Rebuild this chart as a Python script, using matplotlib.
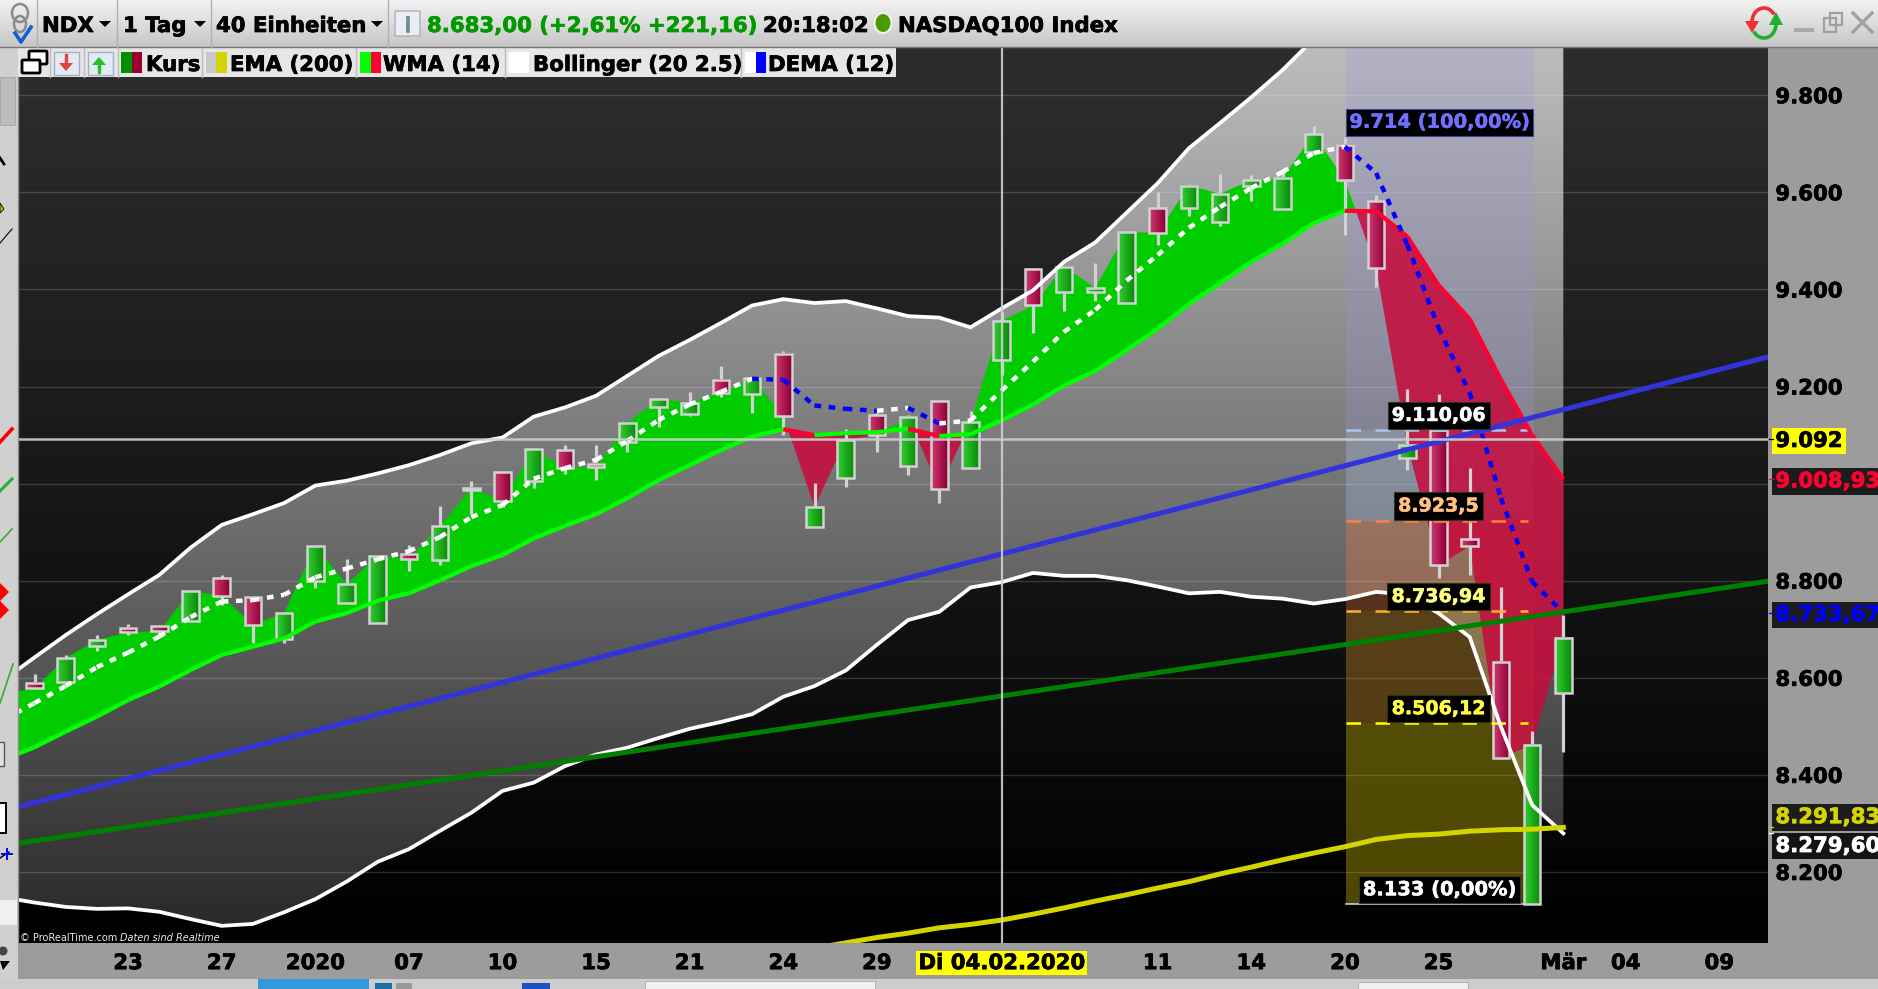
"""
NDX daily chart (ProRealTime style) with Bollinger, WMA, DEMA, EMA and fib zones
"""

import numpy as np
import matplotlib
matplotlib.use("Agg")
import matplotlib.pyplot as plt
import matplotlib.patheffects as pe
from matplotlib.colors import LinearSegmentedColormap
from matplotlib.patches import Rectangle, Ellipse, FancyBboxPatch, Polygon

plt.rcParams["font.family"] = ["DejaVu Sans"]
plt.rcParams["font.weight"] = "bold"

# ── Data ────────────────────────────────────────────────────────────────────

first_bar = -1   # one bar sits left of the visible edge

bar_open = [8560, 8590, 8592, 8665, 8703, 8706, 8717, 8806, 8767, 8679, 8800, 8754, 8713,
            8856, 8843, 8986, 9023, 9005, 9070, 9041, 9086, 9158, 9143, 9214, 9185, 9267,
            8911, 9012, 9141, 9036, 9170, 9032, 9255, 9443, 9394, 9395, 9372, 9568, 9568,
            9539, 9614, 9566, 9683, 9698, 9582, 9053, 9110, 8885, 8633, 8133, 8569]
bar_high = [8575, 8608, 8646, 8688, 8710, 8709, 8779, 8811, 8768, 8734, 8872, 8844, 8850,
            8874, 8954, 9005, 9025, 9071, 9080, 9080, 9125, 9176, 9189, 9242, 9218, 9273,
            9001, 9113, 9145, 9141, 9170, 9150, 9354, 9444, 9448, 9455, 9518, 9601, 9617,
            9638, 9636, 9648, 9737, 9714, 9595, 9195, 9185, 9032, 8787, 8490, 8729]
bar_low = [8550, 8578, 8592, 8656, 8689, 8690, 8717, 8750, 8671, 8672, 8786, 8754, 8713,
           8821, 8832, 8937, 8951, 8990, 9020, 9007, 9066, 9117, 9139, 9179, 9145, 9100,
           8911, 8994, 9066, 9018, 8961, 9032, 9224, 9311, 9356, 9376, 9372, 9492, 9551,
           9531, 9582, 9566, 9683, 9513, 9406, 9028, 8806, 8812, 8433, 8133, 8447]
bar_close = [8568, 8578, 8641, 8678, 8694, 8696, 8779, 8769, 8709, 8734, 8872, 8793, 8850,
             8845, 8913, 8992, 8964, 9071, 9033, 9034, 9125, 9174, 9167, 9187, 9218, 9139,
             8952, 9090, 9100, 9137, 8989, 9127, 9335, 9367, 9447, 9403, 9518, 9517, 9614,
             9597, 9625, 9630, 9720, 9625, 9444, 9080, 8832, 8871, 8435, 8462, 8683]

boll_upper = [8595, 8642, 8688, 8731, 8772, 8812, 8868, 8915, 8937, 8960, 8996, 9006, 9021,
              9038, 9059, 9083, 9095, 9138, 9157, 9181, 9222, 9263, 9296, 9331, 9367, 9380,
              9372, 9376, 9361, 9345, 9342, 9322, 9361, 9398, 9457, 9497, 9558, 9619, 9691,
              9743, 9796, 9852, 9916, 9960, 10040, 10090, 10180, 10230, 10240, 10220, 10180]
boll_lower = [8148, 8137, 8128, 8124, 8125, 8118, 8103, 8089, 8093, 8117, 8144, 8180, 8221,
              8247, 8285, 8322, 8367, 8384, 8418, 8442, 8456, 8476, 8495, 8509, 8525, 8561,
              8583, 8615, 8668, 8719, 8736, 8786, 8797, 8816, 8810, 8810, 8801, 8788, 8774,
              8777, 8767, 8763, 8753, 8762, 8777, 8771, 8733, 8684, 8499, 8338, 8279.6]
wma_14 = [8431, 8457, 8489, 8520, 8554, 8582, 8616, 8647, 8664, 8681, 8716, 8733, 8759,
          8774, 8801, 8830, 8853, 8887, 8913, 8937, 8970, 9007, 9038, 9069, 9097, 9112,
          9100, 9104, 9106, 9113, 9098, 9102, 9130, 9163, 9202, 9232, 9275, 9319, 9370,
          9413, 9457, 9494, 9537, 9562, 9561, 9509, 9409, 9339, 9214, 9100, 9008.93]
dema_12 = [8513, 8548, 8583, 8622, 8652, 8685, 8725, 8757, 8760, 8771, 8807, 8825, 8844,
           8861, 8890, 8931, 8956, 9010, 9032, 9049, 9088, 9131, 9163, 9189, 9216, 9214,
           9161, 9154, 9150, 9156, 9124, 9130, 9192, 9251, 9313, 9358, 9418, 9471, 9527,
           9570, 9609, 9642, 9681, 9694, 9640, 9492, 9321, 9187, 8970, 8798, 8733.67]

ema_first_bar = 25
ema_200 = [8043, 8054, 8065, 8074, 8085, 8092, 8101, 8113, 8126, 8140, 8153, 8167, 8180,
           8196, 8210, 8225, 8239, 8252, 8267, 8275, 8278, 8284, 8287, 8288, 8291.83]

trend_x = [-0.529, 55.56]
trend_blue = [8334, 9261]
trend_green = [8259, 8799]

fib_x = [42.03, 48.06]
fib_levels = [9110.06, 8923.5, 8736.94, 8506.12]
fib_labels = ["9.110,06", "8.923,5", "8.736,94", "8.506,12"]
fib_top_level = 9714
fib_top_label = "9.714 (100,00%)"
fib_bottom_level = 8133
fib_bottom_label = "8.133 (0,00%)"

cross_bar = 31
cross_value = 9092

y_ticks = [8200, 8400, 8600, 8800, 9000, 9200, 9400, 9600, 9800]
x_ticks = [3, 6, 9, 12, 15, 18, 21, 24, 27, 31, 36, 39, 42, 45, 49, 51, 54]
x_labels = ["23", "27", "2020", "07", "10", "15", "21", "24", "29", "Di 04.02.2020",
            "11", "14", "20", "25", "Mär", "04", "09"]

tag_labels = ["9.092", "9.008,93", "8.733,67", "8.291,83", "8.279,60"]
tag_values = [9092, 9008.93, 8733.67, 8291.83, 8279.60]

# ── Figure ──────────────────────────────────────────────────────────────────

W, H = 1878, 989
FS = 15.3
fig = plt.figure(figsize=(W / 100, H / 100), dpi=100, facecolor="#9c9c9c")

plot_l, plot_r, plot_t, plot_b = 18, 1768, 47.6, 942.7
ax = fig.add_axes([plot_l / W, 1 - plot_b / H, (plot_r - plot_l) / W, (plot_b - plot_t) / H])
ax.set_autoscale_on(False)
xlim = (-0.529, 55.56)
ylim = (8054.3, 9898.2)
ax.set_xlim(*xlim)
ax.set_ylim(*ylim)

idx = np.arange(first_bar, first_bar + len(bar_close))
o, h, l, c = map(np.array, (bar_open, bar_high, bar_low, bar_close))
upper, lower = np.array(boll_upper, float), np.array(boll_lower, float)
wma, dema = np.array(wma_14, float), np.array(dema_12, float)


def heavy(col, w=0.5):
    # the original font is a lot heavier than DejaVu Bold
    return [pe.withStroke(linewidth=w, foreground=col)]


# background gradients
extent = [xlim[0], xlim[1], ylim[0], ylim[1]]
ax.imshow(np.linspace(46, 0, 256)[:, None], cmap="gray", vmin=0, vmax=255,
          extent=extent, aspect="auto", zorder=0)
band = ax.fill_between(idx, lower, upper, color="none", lw=0)
band_img = ax.imshow(np.linspace(188, 40, 256)[:, None], cmap="gray", vmin=0, vmax=255,
                     extent=extent, aspect="auto", zorder=0.1)
band_img.set_clip_path(band.get_paths()[0], ax.transData)

ax.set_axisbelow(True)
ax.grid(axis="y", color="white", alpha=0.16, lw=1)
ax.grid(axis="x", visible=False)

# fib zones sit under the colour zone, which lets them shine through a bit
ax.fill_between(fib_x, fib_levels[0], ylim[1], color="#9696dc", alpha=0.25, lw=0, zorder=1.5)
ax.fill_between(fib_x, fib_levels[1], fib_levels[0], color="#aac4f0", alpha=0.3, lw=0, zorder=1.5)
ax.fill_between(fib_x, fib_levels[2], fib_levels[1], color="#ff8040", alpha=0.3, lw=0, zorder=1.5)
ax.fill_between(fib_x, fib_levels[3], fib_levels[2], color="#ffb030", alpha=0.3, lw=0, zorder=1.5)
ax.fill_between(fib_x, fib_bottom_level, fib_levels[3], color="#ffe800", alpha=0.3, lw=0, zorder=1.5)

# colour zone between close and WMA
ax.fill_between(idx, c, wma, where=c >= wma, interpolate=True, color="#00cc00", lw=0, zorder=2)
ax.fill_between(idx, c, wma, where=c < wma, interpolate=True, color="#c80a3c", alpha=0.85,
                lw=0, zorder=2)

fib_colors = ["#aac4f0", "#ff8040", "#ffb030", "#ffff00"]
for level, col in zip(fib_levels, fib_colors):
    ax.plot([fib_x[0], 47.87], [level, level], color=col, lw=1.8,
            ls=(0, (5.8, 5.8)), dash_capstyle="butt", zorder=3.5)
ax.plot([fib_x[0], 48.0], [fib_bottom_level] * 2, color="#cccccc", lw=1.2, zorder=2.6)

# candles
green_cm = LinearSegmentedColormap.from_list("gr", ["#30d030", "#0a8a0a"])
red_cm = LinearSegmentedColormap.from_list("rd", ["#d03a70", "#8e0038"])
grad = np.linspace(0, 1, 32)[None, :]
body_w = 0.53
for k, op, hi, lo, cl in zip(idx, o, h, l, c):
    ax.plot([k, k], [lo, hi], color="#d2d2d2", lw=2.3, solid_capstyle="butt", zorder=2.9)
    top, bot = max(op, cl), min(op, cl)
    cmap = green_cm if cl >= op else red_cm
    ax.imshow(grad, cmap=cmap, extent=[k - body_w / 2, k + body_w / 2, bot, top],
              aspect="auto", zorder=3)
    ax.add_patch(Rectangle((k - body_w / 2, bot), body_w, top - bot, fc="none",
                           ec="#d2d2d2", lw=1.8, zorder=3.1))

# indicators
ax.plot(idx, upper, color="white", lw=2.7, zorder=4, solid_joinstyle="miter")
ax.plot(idx, lower, color="white", lw=2.7, zorder=4, solid_joinstyle="miter")
for i in range(len(idx) - 1):
    col = "#00ff00" if wma[i + 1] > wma[i] else "#ff0030"
    ax.plot(idx[i:i + 2], wma[i:i + 2], color=col, lw=3.0, solid_capstyle="butt", zorder=4.1)
    col = "white" if dema[i + 1] > dema[i] else "#0000ff"
    ax.plot(idx[i:i + 2], dema[i:i + 2], color=col, lw=3.2, ls=(0, (1.5, 1.7)),
            dash_capstyle="butt", zorder=4.2)

ema_x = np.arange(ema_first_bar, ema_first_bar + len(ema_200))
ax.plot(ema_x, ema_200, color="#d4d400", lw=3.6, zorder=4.5)
ax.plot(trend_x, trend_blue, color="#3333dd", lw=3.6, zorder=4.5)
ax.plot(trend_x, trend_green, color="#008000", lw=3.6, zorder=4.5)

# crosshair
ax.axhline(cross_value, color="#cfcfcf", lw=1.8, alpha=0.9, zorder=5)
ax.axvline(cross_bar, color="#cfcfcf", lw=1.6, alpha=0.9, zorder=5)

# fib labels
label_colors = ["#ffffff", "#ffc080", "#ffff80", "#ffff40"]
label_edges = ["#333322", "#333322", "#333300", "#333300"]
for level, txt, col, edge in zip(fib_levels, fib_labels, label_colors, label_edges):
    ax.annotate(txt, xy=(45, level), xytext=(0, 10.6), textcoords="offset points",
                ha="center", va="center", color=col, fontsize=13.7, zorder=6, path_effects=heavy(col, 0.4),
                bbox=dict(boxstyle="square,pad=0.22", fc="black", ec=edge, lw=0.8))
ax.annotate(fib_top_label, xy=(45.03, fib_top_level), xytext=(0, 10.6), textcoords="offset points",
            ha="center", va="center", color="#7070ff", fontsize=14, zorder=6, path_effects=heavy("#7070ff", 0.4),
            bbox=dict(boxstyle="square,pad=0.2", fc="black", ec="#4040a0", lw=0.8))
ax.annotate(fib_bottom_label, xy=(45.03, fib_bottom_level), xytext=(0, 10.6), textcoords="offset points",
            ha="center", va="center", color="white", fontsize=14, zorder=6, path_effects=heavy("white", 0.4),
            bbox=dict(boxstyle="square,pad=0.2", fc="black", ec="#333333", lw=0.8))

# axes cosmetics
for spine in ax.spines.values():
    spine.set_visible(False)
ax.yaxis.tick_right()
ax.set_yticks(y_ticks)
# the 9.000 label is hidden behind the WMA price tag on the original
ax.set_yticklabels([f"{v:,}".replace(",", ".") if v != 9000 else "" for v in y_ticks])
ax.set_xticks(x_ticks)
ax.set_xticklabels(x_labels)
ax.tick_params(axis="y", length=0, pad=5.3, labelsize=FS, colors="black")
ax.tick_params(axis="x", length=0, pad=7.5, labelsize=FS, colors="black")
for tl in ax.get_xticklabels() + ax.get_yticklabels():
    tl.set_path_effects(heavy("black"))
ax.get_xticklabels()[x_labels.index("Di 04.02.2020")].set_bbox(
    dict(fc="#ffff00", ec="none", pad=1.6))

# price tags on the right strip, the last two are pushed apart
tag_text = ["#000000", "#ff0030", "#0000ff", "#d4d400", "#ffffff"]
tag_bg = ["#ffff00", "#1c1c1c", "#1c1c1c", "#1c1c1c", "#141414"]
tag_shift = [0, 0, 0, 8.8, -7.7]
y_tf = ax.get_yaxis_transform()
for txt, val, col, bg, dy in zip(tag_labels, tag_values, tag_text, tag_bg, tag_shift):
    ax.annotate(txt, xy=(1.00423, val), xycoords=y_tf, xytext=(0, dy), textcoords="offset points",
                annotation_clip=False, ha="left", va="center_baseline", color=col, fontsize=FS, zorder=7,
                path_effects=heavy(col), bbox=dict(fc=bg, ec="none", pad=2.4))
    ax.plot([1.0008, 1.0028], [val, val], transform=y_tf, clip_on=False, color=col, lw=0.9, zorder=7)

# ── Window chrome, drawn in pixel coordinates ───────────────────────────────

ui = fig.add_axes([0, 0, 1, 1], zorder=5)
ui.axis("off")
ui.patch.set_visible(False)

# toolbar
ui.imshow(np.linspace(242, 198, 64)[:, None], cmap="gray", vmin=0, vmax=255,
          extent=[0, W, 47, 0], aspect="auto", zorder=0)
ui.set_xlim(0, W)
ui.set_ylim(H, 0)
ui.plot([0, W], [47, 47], color="#777777", lw=1)
for x in [37, 117, 211, 388]:
    ui.plot([x, x], [0, 47], color="#b0b0b0", lw=1)


def ui_text(x, y, s, **kw):
    kw.setdefault("fontsize", FS)
    kw.setdefault("va", "center_baseline")
    kw.setdefault("color", "black")
    if kw.get("fontweight") != "normal":
        kw["path_effects"] = heavy(kw["color"])
    ui.text(x, y, s, **kw)


ui_text(42, 24, "NDX")
ui_text(123, 24, "1 Tag")
ui_text(216, 24, "40 Einheiten")
ui_text(427, 24, "8.683,00 (+2,61% +221,16)", color="#009900")
ui_text(763, 24, "20:18:02")
ui_text(898, 24, "NASDAQ100 Index")
for x in [105, 200, 377]:
    ui.add_patch(Polygon([[x - 6, 21], [x + 6, 21], [x, 27]], fc="black", ec="none"))

# link icon
ui.add_patch(Ellipse((20, 13), 16, 18, fc="none", ec="#8a8a8a", lw=1.8))
ui.add_patch(Ellipse((20, 24), 12, 16, fc="none", ec="#8a8a8a", lw=1.8))
ui.plot([15, 21, 31], [33, 42, 27], color="#1060d0", lw=2.6)
# info icon
ui.add_patch(FancyBboxPatch((396, 12), 23, 23, boxstyle="round,pad=1", fc="#e8eef2", ec="#a8b0b8", lw=1))
ui_text(407.5, 24, "i", color="#7a8a94", ha="center")
ui.add_patch(Ellipse((883, 23), 17, 20, fc="#4a9a00", ec="#f0f0f0", lw=1.5))

# refresh arrows
ang = np.radians(np.linspace(190, 320, 20))
ui.plot(1764 + 12 * np.cos(ang), 22 + 14 * np.sin(ang), color="#ee3030", lw=2.6)
ui.add_patch(Polygon([[1745, 21], [1759, 21], [1752, 33]], fc="#ee3030", ec="none"))
ang = np.radians(np.linspace(10, 140, 20))
ui.plot(1764 + 12 * np.cos(ang), 24 + 14 * np.sin(ang), color="#20b030", lw=2.6)
ui.add_patch(Polygon([[1769, 25], [1783, 25], [1776, 12]], fc="#20b030", ec="none"))
# window buttons
ui.add_patch(Rectangle((1794, 28), 20, 4, fc="#a8a8a8", ec="none"))
ui.add_patch(Rectangle((1824, 18), 12, 14, fc="none", ec="#a0a0a0", lw=1.6))
ui.add_patch(Rectangle((1830, 13), 12, 12, fc="none", ec="#a0a0a0", lw=1.6))
ui.plot([1853, 1872], [13, 32], color="#a0a0a0", lw=2.4)
ui.plot([1853, 1872], [32, 13], color="#a0a0a0", lw=2.4)

# legend bar
ui.add_patch(Rectangle((18, 48), 878, 29, fc="#e6e6e6", ec="none", zorder=1))
for x in [50, 84, 117.5, 202, 355.5, 505, 741]:
    ui.plot([x, x], [48, 77], color="#bdbdbd", lw=1, zorder=2)
legend_swatches = [(121, "#009000", "#99002f"), (205.6, "#c8c8c8", "#d4d400"),
                   (360, "#00ff00", "#ff0030"), (508, "#ffffff", "#ffffff"),
                   (745, "#ffffff", "#0000ff")]
for x, c1, c2 in legend_swatches:
    ui.add_patch(Rectangle((x, 52), 10.5, 21, fc=c1, ec="none", zorder=2))
    ui.add_patch(Rectangle((x + 10.5, 52), 10.5, 21, fc=c2, ec="none", zorder=2))
for x, s in [(146, "Kurs"), (230, "EMA (200)"), (383, "WMA (14)"),
             (533, "Bollinger (20 2.5)"), (768, "DEMA (12)")]:
    ui_text(x, 63, s, zorder=3)
ui.add_patch(FancyBboxPatch((30, 52), 16, 11, boxstyle="round,pad=1", fc="white", ec="black", lw=2, zorder=3))
ui.add_patch(FancyBboxPatch((23, 61), 16, 11, boxstyle="round,pad=1", fc="white", ec="black", lw=2, zorder=3))
for x0, col, pts in [(54, "#e84040", [[59, 63], [66, 71], [73, 63]]),
                     (88, "#20c030", [[92, 65], [99, 57], [106, 65]])]:
    ui.add_patch(Rectangle((x0, 52), 25, 23, fc="#e4eaf2", ec="#a0b0c0", lw=1, zorder=2))
    ui.add_patch(Polygon(pts, fc=col, ec="none", zorder=3))
ui.plot([66, 66], [55, 64], color="#e84040", lw=2.4, zorder=3)
ui.plot([99, 99], [64, 72], color="#20c030", lw=2.4, zorder=3)

# left tool strip
ui.add_patch(Rectangle((0, 47), 18, H - 47, fc="#d0d0d0", ec="none", zorder=0.5))
ui.plot([18, 18], [77, 943], color="#8c8c8c", lw=1, zorder=1)
ui.add_patch(Rectangle((0, 77), 15, 48, fc="#bdbdbd", ec="#aaaaaa", lw=0.8, zorder=1))
ui.plot([0, 12], [243, 229], color="black", lw=0.8, zorder=1)
ui.plot([0, 4], [158, 164], color="black", lw=2, zorder=1)
ui.add_patch(Polygon([[0, 203], [4, 209], [0, 213]], fc="#d8b800", ec="black", lw=0.6, zorder=1))
ui.plot([0, 12], [442, 429], color="#ff0000", lw=2.6, zorder=1)
ui.plot([0, 12], [491, 479], color="#30b030", lw=2.2, zorder=1)
ui.plot([0, 12], [542, 529], color="#30b030", lw=1.2, zorder=1)
for py in [592, 610]:
    ui.add_patch(Polygon([[0, py - 9], [9, py], [0, py + 9]], fc="#ff0000", ec="none", zorder=1))
ui.plot([0, 13], [703, 664], color="#30b030", lw=1.2, zorder=1)
ui.add_patch(Rectangle((-4, 742), 8, 24, fc="#e0e0e0", ec="#555555", lw=1, zorder=1))
ui.add_patch(Rectangle((-4, 803), 10, 30, fc="white", ec="black", lw=1.4, zorder=1))
ui.plot([0, 9], [858, 852], color="black", lw=1, zorder=1)
ui.plot([2, 12], [854, 854], color="#0000ff", lw=1.4, zorder=1)
ui.plot([7, 7], [849, 859], color="#0000ff", lw=1.4, zorder=1)
ui.add_patch(Rectangle((0, 900), 17, 25, fc="#f0f0f0", ec="none", zorder=1))
ui.add_patch(Ellipse((3, 951), 9, 9, fc="#444444", ec="none", zorder=1))
ui.add_patch(Polygon([[0, 961], [10, 961], [3, 970]], fc="black", ec="none", zorder=1))

# bottom strip
ui.add_patch(Rectangle((0, 979), W, 10, fc="#cdcdcd", ec="none", zorder=1))
ui.add_patch(Rectangle((258, 979), 111, 10, fc="#3399dd", ec="none", zorder=2))
ui.add_patch(Rectangle((375, 983), 17, 6, fc="#1b6fa8", ec="none", zorder=2))
ui.add_patch(Rectangle((396, 983), 16, 6, fc="#999999", ec="none", zorder=2))
ui.add_patch(Rectangle((522, 983), 28, 6, fc="#1e50c0", ec="none", zorder=2))
ui.add_patch(Rectangle((645, 981), 230, 8, fc="#f0f0f0", ec="#aaaaaa", lw=0.6, zorder=2))
ui.add_patch(Rectangle((1358, 982), 110, 7, fc="#f0f0f0", ec="#aaaaaa", lw=0.6, zorder=2))

# watermark
ui_text(20, 937, "© ProRealTime.com", color="#e8e8e8", fontsize=7, fontweight="normal", zorder=3)
ui_text(120, 937, "Daten sind Realtime", color="#e8e8e8", fontsize=7, fontweight="normal",
        fontstyle="italic", zorder=3)

fig.savefig("out.png", dpi=100, facecolor=fig.get_facecolor())
